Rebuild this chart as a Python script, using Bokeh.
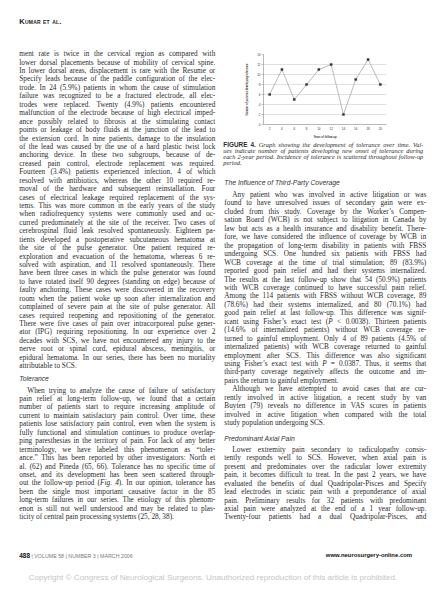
from bokeh.plotting import figure
from bokeh.models import Div, FactorRange, Range1d, FixedTicker
from bokeh.layouts import row, column
from bokeh.embed import file_html
from bokeh.resources import INLINE

# ---------------- chart data ----------------
years = ["2", "4", "6", "8", "10", "12", "14", "16", "18", "20"]
patients = [6, 11, 5, 8, 11, 12, 2, 9, 13, 8]
y_ticks = [0, 2, 4, 6, 8, 10, 12, 14]
x_title = "Years of follow-up"
y_title = "Number of patients developing tolerance"

# ---------------- page texts ----------------
header_text = "Kumar et al."
left_par1 = [
    "ment rate is twice in the cervical region as compared with",
    "lower dorsal placements because of mobility of cervical spine.",
    "In lower dorsal areas, displacement is rare with the Resume or",
    "Specify leads because of the paddle configuration of the elec-",
    "trode. In 24 (5.9%) patients in whom the cause of stimulation",
    "failure was recognized to be a fractured electrode, all elec-",
    "trodes were replaced. Twenty (4.9%) patients encountered",
    "malfunction of the electrode because of high electrical imped-",
    "ance possibly related to fibrosis at the stimulating contact",
    "points or leakage of body fluids at the junction of the lead to",
    "the extension cord. In nine patients, damage to the insulation",
    "of the lead was caused by the use of a hard plastic twist lock",
    "anchoring device. In these two subgroups, because of de-",
    "creased pain control, electrode replacement was required.",
    "Fourteen (3.4%) patients experienced infection, 4 of which",
    "resolved with antibiotics, whereas the other 10 required re-",
    "moval of the hardware and subsequent reinstallation. Four",
    "cases of electrical leakage required replacement of the sys-",
    "tems. This was more common in the early years of the study",
    "when radiofrequency systems were commonly used and oc-",
    "curred predominately at the site of the receiver. Two cases of",
    "cerebrospinal fluid leak resolved spontaneously. Eighteen pa-",
    "tients developed a postoperative subcutaneous hematoma at",
    "the site of the pulse generator. One patient required re-",
    "exploration and evacuation of the hematoma, whereas 6 re-",
    "solved with aspiration, and 11 resolved spontaneously. There",
    "have been three cases in which the pulse generator was found",
    "to have rotated itself 90 degrees (standing on edge) because of",
    "faulty anchoring. These cases were discovered in the recovery",
    "room when the patient woke up soon after internalization and",
    "complained of severe pain at the site of pulse generator. All",
    "cases required reopening and repositioning of the generator.",
    "There were five cases of pain over intracorporeal pulse gener-",
    "ator (IPG) requiring repositioning. In our experience over 2",
    "decades with SCS, we have not encountered any injury to the",
    "nerve root or spinal cord, epidural abscess, meningitis, or",
    "epidural hematoma. In our series, there has been no mortality",
    "attributable to SCS.",
]
left_heading = "Tolerance"
left_par2 = [
    "When trying to analyze the cause of failure of satisfactory",
    "pain relief at long-term follow-up, we found that a certain",
    "number of patients start to require increasing amplitude of",
    "current to maintain satisfactory pain control. Over time, these",
    "patients lose satisfactory pain control, even when the system is",
    "fully functional and stimulation continues to produce overlap-",
    "ping paresthesias in the territory of pain. For lack of any better",
    "terminology, we have labeled this phenomenon as \u201ctoler-",
    "ance.\u201d This has been reported by other investigators: North et",
    "al. (62) and Pineda (65, 66). Tolerance has no specific time of",
    "onset, and its development has been seen scattered through-",
    "out the follow-up period (<i>Fig. 4</i>). In our opinion, tolerance has",
    "been the single most important causative factor in the 85",
    "long-term failures in our series. The etiology of this phenom-",
    "enon is still not well understood and may be related to plas-",
    "ticity of central pain processing systems (25, 28, 38).",
]
footer_num = "488"
footer_text = "| VOLUME 58 | NUMBER 3 | MARCH 2006"
copyright_text = "Copyright \u00a9 Congress of Neurological Surgeons. Unauthorized reproduction of this article is prohibited."

caption_lines = [
    "<b style=\"font-family:'Liberation Sans';font-style:normal\">FIGURE 4.</b> Graph showing the development of tolerance over time. Val-",
    "ues indicate number of patients developing new onset of tolerance during",
    "each 2-year period. Incidence of tolerance is scattered throughout follow-up",
    "period.",
]
right_heading1 = "The Influence of Third-Party Coverage"
right_par1 = [
    "Any patient who was involved in active litigation or was",
    "found to have unresolved issues of secondary gain were ex-",
    "cluded from this study. Coverage by the Worker\u2019s Compen-",
    "sation Board (WCB) is not subject to litigation in Canada by",
    "law but acts as a health insurance and disability benefit. There-",
    "fore, we have considered the influence of coverage by WCB in",
    "the propagation of long-term disability in patients with FBSS",
    "undergoing SCS. One hundred six patients with FBSS had",
    "WCB coverage at the time of trial stimulation; 89 (83.9%)",
    "reported good pain relief and had their systems internalized.",
    "The results at the last follow-up show that 54 (50.9%) patients",
    "with WCB coverage continued to have successful pain relief.",
    "Among the 114 patients with FBSS without WCB coverage, 89",
    "(78.6%) had their systems internalized, and 80 (70.1%) had",
    "good pain relief at last follow-up. This difference was signif-",
    "icant using Fisher\u2019s exact test (<i>P</i> &lt; 0.0038). Thirteen patients",
    "(14.6% of internalized patients) without WCB coverage re-",
    "turned to gainful employment. Only 4 of 89 patients (4.5% of",
    "internalized patients) with WCB coverage returned to gainful",
    "employment after SCS. This difference was also significant",
    "using Fisher\u2019s exact test with <i>P</i> = 0.0387. Thus, it seems that",
    "third-party coverage negatively affects the outcome and im-",
    "pairs the return to gainful employment.",
]
right_par2 = [
    "Although we have attempted to avoid cases that are cur-",
    "rently involved in active litigation, a recent study by van",
    "Buyten (79) reveals no difference in VAS scores in patients",
    "involved in active litigation when compared with the total",
    "study population undergoing SCS.",
]
right_heading2 = "Predominant Axial Pain"
right_par3 = [
    "Lower extremity pain secondary to radiculopathy consis-",
    "tently responds well to SCS. However, when axial pain is",
    "present and predominates over the radicular lower extremity",
    "pain, it becomes difficult to treat. In the past 2 years, we have",
    "evaluated the benefits of dual Quadripolar-Pisces and Specify",
    "lead electrodes in sciatic pain with a preponderance of axial",
    "pain. Preliminary results for 32 patients with predominant",
    "axial pain were analyzed at the end of a 1 year follow-up.",
    "Twenty-four patients had a dual Quadripolar-Pisces, and",
]
site_text = "www.neurosurgery-online.com"

# ---------------- chart ----------------
GRID = "#d4d4d4"
p = figure(width=216, height=141,
           x_range=FactorRange(factors=years, range_padding=0),
           y_range=Range1d(0, 14),
           output_backend="svg", toolbar_location=None,
           min_border_left=47, min_border_right=46,
           min_border_top=54, min_border_bottom=17,
           outline_line_color=None,
           background_fill_color="white", border_fill_color="white")
p.line(years, patients, line_color="#a9a9a9", line_width=0.8)
p.scatter(years, patients, marker="square", size=2.2,
          fill_color="#2b2b2b", line_color="#2b2b2b", line_width=0.3)

p.yaxis.ticker = FixedTicker(ticks=y_ticks)
p.ygrid.ticker = FixedTicker(ticks=y_ticks)
p.ygrid.grid_line_color = GRID
p.ygrid.grid_line_width = 0.7
p.xgrid.grid_line_color = None

for ax in (p.xaxis[0], p.yaxis[0]):
    ax.axis_line_color = "#9a9a9a"
    ax.axis_line_width = 0.7
    ax.major_tick_line_color = "#9a9a9a"
    ax.major_tick_line_width = 0.6
    ax.minor_tick_line_color = None
    ax.major_tick_in = 0
    ax.major_label_text_font = "Liberation Sans"
    ax.major_label_text_font_size = "3px"
    ax.major_label_text_color = "#333333"
    ax.axis_label_text_font = "Liberation Sans"
    ax.axis_label_text_font_size = "2.7px"
    ax.axis_label_text_font_style = "bold"
    ax.axis_label_text_color = "#333333"

p.yaxis.major_tick_out = 2
p.yaxis.major_label_standoff = 1
p.yaxis.axis_label_standoff = 5
p.yaxis.axis_label = y_title
p.xaxis.major_tick_out = 0
p.xaxis.major_label_standoff = 2
p.xaxis.axis_label_standoff = 3
p.xaxis.axis_label = x_title

# ---------------- page text blocks ----------------
BODY = "'Liberation Serif'"
SANS = "'Liberation Sans'"


def ln(txt, x, cy, ox, oy, w=None, fs=7.3, lh=8.4, fam=BODY, just=True, extra=""):
    top = cy - oy - lh / 2 - 0.3
    st = (f"position:absolute;left:{x - ox:.2f}px;top:{top:.2f}px;height:{lh}px;"
          f"line-height:{lh}px;font-size:{fs}px;font-family:{fam};margin:0;padding:0;")
    if w is not None:
        st += f"width:{w:.2f}px;"
    if not just or w is None:
        st += "white-space:nowrap;"
    if just:
        st += "text-align:justify;text-align-last:justify;"
    else:
        st += "text-align:left;"
    st += extra
    return f'<div style="{st}">{txt}</div>'


# left column (origin of this block in the window: 8, 8)
LOX, LOY = 8, 8
LX, LW, IND = 27.3, 196.0, 8.0
parts = []
parts.append(ln(header_text, LX, 29.3, LOX, LOY, fs=7.6, lh=9, fam=SANS, just=False,
                extra="font-weight:bold;font-variant:small-caps;color:#222;letter-spacing:0.2px;"))
for i, t in enumerate(left_par1):
    last = i == len(left_par1) - 1
    parts.append(ln(t, LX, 62.7 + i * 8.43, LOX, LOY, w=None if last else LW, just=not last))
parts.append(ln(left_heading, LX, 387.7, LOX, LOY, fs=6.8, lh=8, fam=SANS, just=False,
                extra="font-style:italic;color:#333;"))
for i, t in enumerate(left_par2):
    last = i == len(left_par2) - 1
    x = LX + (IND if i == 0 else 0)
    w = LW - (IND if i == 0 else 0)
    parts.append(ln(t, x, 399.0 + i * 8.45, LOX, LOY, w=None if last else w, just=not last))
parts.append(ln(f"<b style='color:#111;font-size:6.4px'>{footer_num}</b> "
                f"<span style='color:#7a7a7a'>{footer_text}</span>",
                LX, 564.0, LOX, LOY, fs=5.3, lh=7, fam=SANS, just=False))
parts.append(ln(copyright_text, 36.7, 585.7, LOX, LOY, fs=8.1, lh=9, fam=SANS, just=False,
                extra="color:#c6c6c6;"))
left_html = ('<div style="position:relative;width:216px;height:583px;color:#2c2c2c;overflow:visible">'
             + "".join(parts) + "</div>")

# right column below the chart (origin in the window: 224, 149)
ROX, ROY = 224, 149
RX, RW = 232.3, 202.0
parts = []
for i, t in enumerate(caption_lines):
    last = i == len(caption_lines) - 1
    parts.append(ln(t, 231.3, 153.0 + i * 6.1, ROX, ROY, w=None if last else 200.0,
                    fs=6.4, lh=6.1, just=not last, extra="font-style:italic;"))
parts.append(ln(right_heading1, RX, 191.0, ROX, ROY, fs=6.8, lh=8, fam=SANS, just=False,
                extra="font-style:italic;color:#333;"))
rl = [(t, i == 0, i == len(right_par1) - 1) for i, t in enumerate(right_par1)]
rl += [(t, i == 0, i == len(right_par2) - 1) for i, t in enumerate(right_par2)]
for k, (t, first, last) in enumerate(rl):
    x = RX + (IND if first else 0)
    w = RW - (IND if first else 0)
    parts.append(ln(t, x, 203.5 + k * 8.45, ROX, ROY, w=None if last else w, just=not last))
parts.append(ln(right_heading2, RX, 447.0, ROX, ROY, fs=6.8, lh=8, fam=SANS, just=False,
                extra="font-style:italic;color:#333;"))
for i, t in enumerate(right_par3):
    x = RX + (IND if i == 0 else 0)
    w = RW - (IND if i == 0 else 0)
    parts.append(ln(t, x, 458.3 + i * 8.45, ROX, ROY, w=w, just=True))
parts.append(ln(site_text, 420.0 - 110.0, 563.3, ROX, ROY, w=110.0, fs=5.9, lh=7, fam=SANS, just=False,
                extra="font-weight:bold;color:#111;text-align:right;"))
right_html = ('<div style="position:relative;width:216px;height:442px;color:#2c2c2c;overflow:visible">'
              + "".join(parts) + "</div>")

left_div = Div(text=left_html, width=216, height=583, margin=(0, 0, 0, 0),
               styles={"overflow": "visible"})
right_div = Div(text=right_html, width=216, height=442, margin=(0, 0, 0, 0),
                styles={"overflow": "visible"})

layout = row(left_div, column(p, right_div, spacing=0), spacing=0)

open("out.html", "w").write(file_html(layout, INLINE))
